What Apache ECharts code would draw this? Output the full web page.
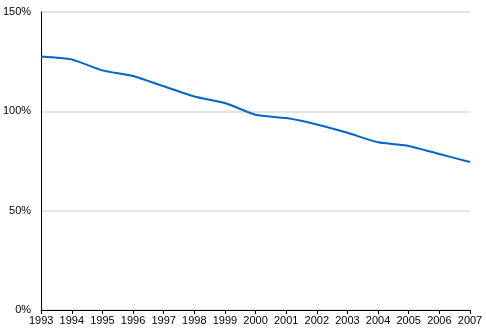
<!DOCTYPE html>
<html><head><meta charset="utf-8">
<script src="https://cdn.jsdelivr.net/npm/echarts@6/dist/echarts.min.js"></script>
<style>html,body{margin:0;padding:0;background:#fff}#c{width:486px;height:330px}</style>
</head><body><div id="c"></div>
<script>
const years = ['1993','1994','1995','1996','1997','1998','1999','2000','2001','2002','2003','2004','2005','2006','2007'];
const values = [127.6,126.1,120.6,117.8,112.6,107.5,104.2,98.3,96.6,93.4,89.2,84.4,82.6,78.5,74.5];
const yTicks = [0,50,100,150];
const chart = echarts.init(document.getElementById('c'));
chart.setOption({
  animation:false,
  grid:{left:40,right:16,top:12,bottom:20,containLabel:false},
  xAxis:{type:'category',data:years,boundaryGap:false,
    axisLine:{lineStyle:{color:'#000',width:1}},
    axisTick:{show:true,length:4,lineStyle:{color:'#000'}},
    axisLabel:{color:'#000',fontFamily:'Liberation Sans, Arial',fontSize:11,margin:5,interval:0},
    splitLine:{show:false}},
  yAxis:{type:'value',min:0,max:150,interval:50,
    axisLine:{show:true,lineStyle:{color:'#000',width:1}},
    axisTick:{show:false},
    axisLabel:{color:'#000',fontFamily:'Liberation Sans, Arial',fontSize:11,margin:10,
      formatter:v=>yTicks.includes(v)?v+'%':''},
    splitLine:{show:true,lineStyle:{color:'#e3e3e3',width:2}}},
  series:[{type:'line',data:values,smooth:0.2,symbol:'none',
    lineStyle:{color:'#0066cc',width:2}}]
});
</script></body></html>
